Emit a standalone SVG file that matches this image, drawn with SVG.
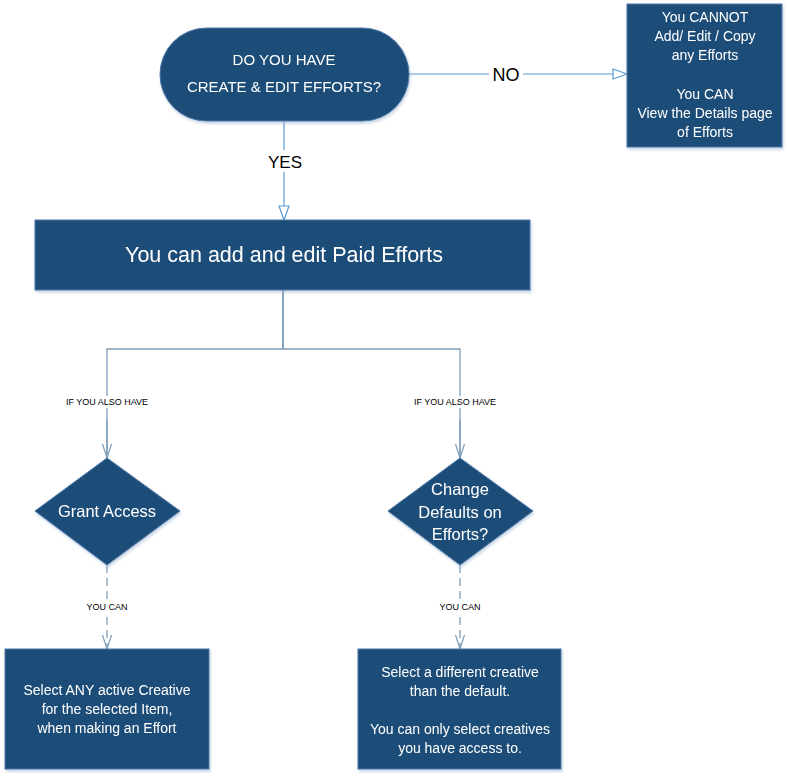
<svg xmlns="http://www.w3.org/2000/svg" width="789" height="777" viewBox="0 0 789 777">
<defs>
<style>
.node{fill:#1F4E79;stroke:#4A76A8;stroke-width:1}
.t{font-family:"Liberation Sans",Arial,sans-serif;fill:#FFFFFF;text-anchor:middle}
.lbl{font-family:"Liberation Sans",Arial,sans-serif;fill:#000000;text-anchor:middle}
.c1{fill:none;stroke:#5B9BD5;stroke-width:1.2}
.c2{fill:none;stroke:#7F9DB9;stroke-width:1.3}
.dash{stroke-dasharray:8 5}
.bg{fill:#FFFFFF}
</style>
<marker id="tri" markerWidth="16" markerHeight="12" refX="15" refY="6" orient="auto" markerUnits="userSpaceOnUse">
<path d="M1,1 L15,6 L1,11 Z" fill="#FFFFFF" stroke="#5B9BD5" stroke-width="1.2"/>
</marker>
<marker id="vee" markerWidth="16" markerHeight="12" refX="15" refY="6" orient="auto" markerUnits="userSpaceOnUse">
<path d="M1,1.5 L15,6 L1,10.5" fill="none" stroke="#7F9DB9" stroke-width="1.2"/>
</marker>
<filter id="sh" x="-5%" y="-5%" width="112%" height="115%">
<feDropShadow dx="1" dy="2" stdDeviation="1.5" flood-color="#9DB5D0" flood-opacity="0.6"/>
</filter>
</defs>
<rect width="789" height="777" fill="#FFFFFF"/>

<g id="connectors">
<line class="c1" x1="409" y1="74" x2="627" y2="74" marker-end="url(#tri)"/>
<rect class="bg" x="489" y="63" width="34" height="22"/>
<text class="lbl" x="506" y="81" font-size="18">NO</text>
<line class="c1" x1="284" y1="121" x2="284" y2="220" marker-end="url(#tri)"/>
<rect class="bg" x="266" y="150" width="38" height="22"/>
<text class="lbl" x="285" y="168" font-size="17">YES</text>
<line x1="283" y1="290" x2="283" y2="349" stroke="#41719C" stroke-width="1.3"/>
<polyline class="c2" points="107,458 107,349 460,349 460,458"/>
<path class="c2" d="M107,420 L107,458" marker-end="url(#vee)"/>
<path class="c2" d="M460,420 L460,458" marker-end="url(#vee)"/>
<rect class="bg" x="63" y="396" width="88" height="12"/>
<text class="lbl" x="107" y="405" font-size="9">IF YOU ALSO HAVE</text>
<rect class="bg" x="411" y="396" width="88" height="12"/>
<text class="lbl" x="455" y="405" font-size="9">IF YOU ALSO HAVE</text>
<line class="c2 dash" x1="107" y1="565" x2="107" y2="649" marker-end="url(#vee)"/>
<line class="c2 dash" x1="460" y1="565" x2="460" y2="649" marker-end="url(#vee)"/>
<rect class="bg" x="84" y="601" width="46" height="12"/>
<text class="lbl" x="107" y="610" font-size="9">YOU CAN</text>
<rect class="bg" x="437" y="601" width="46" height="12"/>
<text class="lbl" x="460" y="610" font-size="9">YOU CAN</text>
</g>

<g id="start" filter="url(#sh)">
<rect class="node" x="160" y="28" width="249" height="93" rx="46.5"/>
<text class="t" x="284" y="65" font-size="15">DO YOU HAVE</text>
<text class="t" x="284" y="92" font-size="15">CREATE &amp; EDIT EFFORTS?</text>
</g>

<g id="no-box" filter="url(#sh)">
<rect class="node" x="627" y="4" width="155" height="143"/>
<g class="t" font-size="14">
<text x="705" y="22">You CANNOT</text>
<text x="705" y="41">Add/ Edit / Copy</text>
<text x="705" y="60">any Efforts</text>
<text x="705" y="99">You CAN</text>
<text x="705" y="118">View the Details page</text>
<text x="705" y="137">of Efforts</text>
</g>
</g>

<g id="paid" filter="url(#sh)">
<rect class="node" x="35" y="220" width="495" height="70"/>
<text class="t" x="284" y="262" font-size="21.5">You can add and edit Paid Efforts</text>
</g>

<g id="grant" filter="url(#sh)">
<polygon class="node" points="107,458 180,511 107,565 35,511"/>
<text class="t" x="107" y="517" font-size="16.5">Grant Access</text>
</g>

<g id="defaults" filter="url(#sh)">
<polygon class="node" points="460,458 533,511 460,565 388,511"/>
<text class="t" x="460" y="495" font-size="16.5">Change</text>
<text class="t" x="460" y="518" font-size="16.5">Defaults on</text>
<text class="t" x="460" y="540" font-size="16.5">Efforts?</text>
</g>

<g id="any-creative" filter="url(#sh)">
<rect class="node" x="5" y="649" width="204" height="120"/>
<g class="t" font-size="14">
<text x="107" y="695">Select ANY active Creative</text>
<text x="107" y="714">for the selected Item,</text>
<text x="107" y="733">when making an Effort</text>
</g>
</g>

<g id="different-creative" filter="url(#sh)">
<rect class="node" x="358" y="649" width="203" height="120"/>
<g class="t" font-size="14">
<text x="460" y="677">Select a different creative</text>
<text x="460" y="696">than the default.</text>
<text x="460" y="734">You can only select creatives</text>
<text x="460" y="753">you have access to.</text>
</g>
</g>
</svg>
